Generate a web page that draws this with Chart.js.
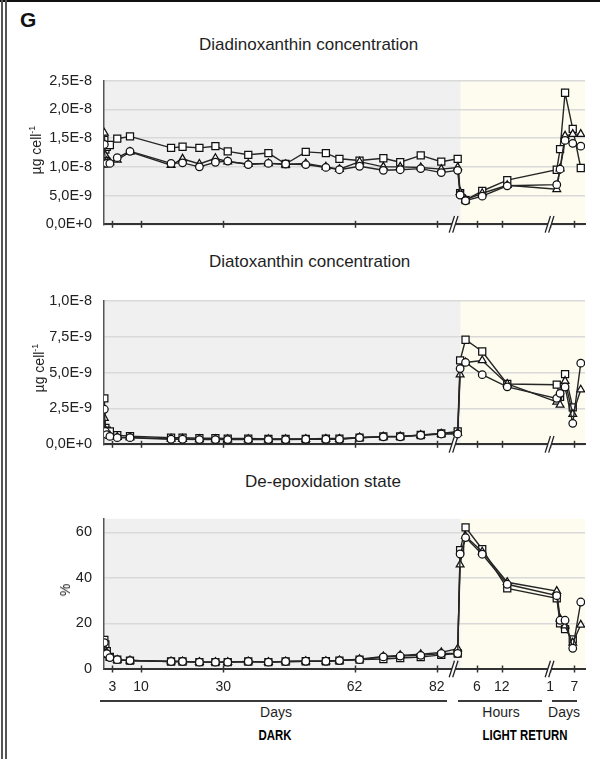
<!DOCTYPE html>
<html><head><meta charset="utf-8">
<script src="https://cdn.jsdelivr.net/npm/chart.js@4.4.1/dist/chart.umd.min.js"></script>
<style>
html,body{margin:0;padding:0;background:#fff;}
body{width:600px;height:759px;position:relative;overflow:hidden;font-family:"Liberation Sans",Arial,sans-serif;color:#1e1e1e;}
.fr{position:absolute;background:#555;}
canvas{position:absolute;left:0;}
.t{position:absolute;white-space:nowrap;line-height:1;}
.c{transform:translateX(-50%);}
.b{font-weight:bold;font-size:15px;color:#000;transform:translateX(-50%) scaleX(0.76);}
.yt{position:absolute;white-space:nowrap;line-height:1;font-size:14px;color:#222;transform:translate(-50%,-50%) rotate(-90deg);}
.yt sup{font-size:9px;vertical-align:6px;line-height:0;}
.ln{position:absolute;height:2px;background:#3a3a3a;}
</style></head><body>
<div class="fr" style="left:0;top:0;width:600px;height:2px;background:#111"></div>
<div class="fr" style="left:1px;top:0;width:2px;height:759px"></div>
<div class="fr" style="left:5px;top:0;width:2px;height:759px"></div>
<div class="t" style="left:20px;top:9px;font-size:21px;font-weight:bold;color:#111">G</div>
<div class="t" style="left:199px;top:35.6px;font-size:17px">Diadinoxanthin concentration</div>
<div class="t" style="left:209px;top:253px;font-size:17px">Diatoxanthin concentration</div>
<div class="t" style="left:245px;top:473px;font-size:17px">De-epoxidation state</div>
<canvas id="c1" width="600" height="185" style="top:60px"></canvas>
<canvas id="c2" width="600" height="185" style="top:280px"></canvas>
<canvas id="c3" width="600" height="200" style="top:498px"></canvas>
<div class="yt" style="left:36px;top:150px">µg cell<sup>-1</sup></div>
<div class="yt" style="left:39px;top:368px">µg cell<sup>-1</sup></div>
<div class="yt" style="left:65px;top:590px">%</div>
<div class="ln" style="left:100px;width:347px;top:699.7px"></div>
<div class="ln" style="left:458px;width:84px;top:699.7px"></div>
<div class="ln" style="left:552px;width:25px;top:699.7px"></div>
<div class="t c" style="left:276px;top:704.6px;font-size:14px">Days</div>
<div class="t c" style="left:501px;top:705px;font-size:14px">Hours</div>
<div class="t c" style="left:564px;top:705px;font-size:14px">Days</div>
<div class="t b" style="left:275px;top:727.3px">DARK</div>
<div class="t b" style="left:525px;top:726.8px">LIGHT RETURN</div>
<script>
// ---- sampling times ----
const darkDays = [1.05,1.3,1.65,2.4,4.2,7.3,17.3,20.1,24.2,28.1,31.1,36.1,41.0,45.2,50.1,55.0,58.3,63.2,69.0,73.1,78.1,83.1,87.1];
const lightHours = [2.0,3.3,7.3,13.3];
const lightDays = [2.64,3.46,4.69,6.59,8.57];

// ---- x axis tick labels ----
const darkTickDays = [3,10,30,62,82];
const hourTicks = [6,12];
const lightDayTicks = [1,7];

// ---- y axis ticks ----
const ddxTicks = [0,5e-9,1e-8,1.5e-8,2e-8,2.5e-8];
const dtxTicks = [0,2.5e-9,5e-9,7.5e-9,1e-8];
const depsTicks = [0,20,40,60];

// ---- Diadinoxanthin (µg cell-1): dark (23), light hours (4), light days (5) ----
const ddxSquare = [1.47e-8,1.30e-8,1.35e-8,1.38e-8,1.49e-8,1.53e-8,
  1.33e-8,1.35e-8,1.33e-8,1.36e-8,1.27e-8,1.21e-8,1.24e-8,1.05e-8,1.26e-8,1.24e-8,1.14e-8,1.11e-8,1.15e-8,1.08e-8,1.20e-8,1.09e-8,1.14e-8,
  0.54e-8,0.42e-8,0.58e-8,0.77e-8,
  0.95e-8,1.31e-8,2.29e-8,1.66e-8,0.98e-8];
const ddxTriangle = [1.59e-8,1.20e-8,1.10e-8,1.08e-8,1.12e-8,1.26e-8,
  1.03e-8,1.14e-8,1.05e-8,1.15e-8,1.09e-8,1.05e-8,1.06e-8,1.04e-8,1.06e-8,1.00e-8,0.96e-8,1.09e-8,1.00e-8,1.00e-8,0.99e-8,0.96e-8,0.99e-8,
  0.56e-8,0.43e-8,0.54e-8,0.68e-8,
  0.61e-8,0.97e-8,1.54e-8,1.57e-8,1.57e-8];
const ddxCircle = [1.39e-8,1.06e-8,1.06e-8,1.06e-8,1.16e-8,1.27e-8,
  1.06e-8,1.07e-8,1.00e-8,1.08e-8,1.10e-8,1.04e-8,1.06e-8,1.05e-8,1.04e-8,0.99e-8,0.95e-8,1.01e-8,0.94e-8,0.95e-8,0.97e-8,0.90e-8,0.94e-8,
  0.51e-8,0.41e-8,0.49e-8,0.67e-8,
  0.69e-8,0.96e-8,1.46e-8,1.41e-8,1.36e-8];

// ---- Diatoxanthin (µg cell-1) ----
const dtxSquare = [3.2e-9,1.14e-9,0.95e-9,0.89e-9,0.63e-9,0.57e-9,
  0.46e-9,0.46e-9,0.42e-9,0.42e-9,0.40e-9,0.40e-9,0.38e-9,0.38e-9,0.38e-9,0.40e-9,0.40e-9,0.46e-9,0.55e-9,0.55e-9,0.65e-9,0.75e-9,0.89e-9,
  5.84e-9,7.28e-9,6.46e-9,4.2e-9,
  4.15e-9,3.3e-9,4.89e-9,2.57e-9,null];
const dtxTriangle = [1.83e-9,1.0e-9,0.75e-9,0.6e-9,0.5e-9,0.48e-9,
  0.38e-9,0.38e-9,0.35e-9,0.35e-9,0.35e-9,0.35e-9,0.35e-9,0.35e-9,0.36e-9,0.37e-9,0.37e-9,0.47e-9,0.53e-9,0.54e-9,0.64e-9,0.73e-9,0.80e-9,
  4.85e-9,5.7e-9,5.84e-9,4.2e-9,
  2.95e-9,2.74e-9,4.4e-9,2.1e-9,3.8e-9];
const dtxCircle = [2.44e-9,0.9e-9,0.67e-9,0.55e-9,0.46e-9,0.46e-9,
  0.35e-9,0.35e-9,0.33e-9,0.33e-9,0.33e-9,0.33e-9,0.33e-9,0.33e-9,0.35e-9,0.35e-9,0.35e-9,0.46e-9,0.52e-9,0.52e-9,0.63e-9,0.72e-9,0.72e-9,
  5.27e-9,5.7e-9,4.85e-9,4.0e-9,
  3.2e-9,3.55e-9,3.99e-9,1.46e-9,5.65e-9];

// ---- De-epoxidation state (%) ----
const depsSquare = [12.8,10.8,7.8,5.3,4.1,3.7,
  3.3,3.3,3.0,3.0,3.0,3.3,3.0,3.3,3.4,3.4,3.7,4.1,4.4,4.8,5.2,6.2,6.8,
  52.2,62.2,52.6,35.4,
  31.0,20.1,17.5,13.0,null];
const depsTriangle = [9.0,8.0,6.0,5.0,4.0,3.7,
  3.3,3.3,3.0,3.0,3.0,3.3,3.0,3.3,3.4,3.4,3.7,4.3,5.5,6.0,6.5,7.3,8.9,
  45.8,58.3,51.5,38.1,
  34.2,22.0,19.0,11.5,19.4];
const depsCircle = [11.6,7.0,6.7,5.0,4.1,3.7,
  3.3,3.3,3.0,3.0,3.0,3.3,3.0,3.3,3.4,3.4,3.7,4.1,5.3,5.7,6.0,6.8,6.8,
  50.5,57.7,50.4,37.2,
  32.2,21.4,21.4,9.1,29.4];

// ---- composite x position (broken axis): dark days | light hours | light days ----
const posDark = d => d;
const posHour = h => 85.66 + 1.0156 * h;
const posLDay = d => 108.62 + 0.986 * d;
const xPos = [...darkDays.map(posDark), ...lightHours.map(posHour), ...lightDays.map(posLDay)];
const xTicks = [
  ...darkTickDays.map(v => ({value: posDark(v), label: String(v)})),
  ...hourTicks.map(v => ({value: posHour(v), label: String(v)})),
  ...lightDayTicks.map(v => ({value: posLDay(v), label: String(v)}))
];
const LIGHT_START = 87.85;
const BREAKS = [86.1, 109.47];

Chart.defaults.font.family = '"Liberation Sans", Arial, sans-serif';
Chart.defaults.color = '#222';

const decor = {
  id: 'decor',
  beforeDraw(chart) {
    const {ctx, chartArea: a, scales: {x}} = chart;
    const b = x.getPixelForValue(LIGHT_START);
    ctx.save();
    ctx.fillStyle = '#f0f0f0';
    ctx.fillRect(a.left, a.top, b - a.left, a.bottom - a.top);
    ctx.fillStyle = '#fdfcef';
    ctx.fillRect(b, a.top, a.right - b, a.bottom - a.top);
    ctx.restore();
  },
  beforeDatasetsDraw(chart) {
    const {ctx, chartArea: a, scales: {x}} = chart;
    const y = a.bottom;
    ctx.save();
    ctx.strokeStyle = '#333';
    ctx.lineWidth = 1.5;
    xTicks.forEach(t => {
      const px = Math.round(x.getPixelForValue(t.value)) + 0.5;
      ctx.beginPath(); ctx.moveTo(px, y - 3.5); ctx.lineTo(px, y + 3.5); ctx.stroke();
    });
    BREAKS.forEach(bv => {
      const px = x.getPixelForValue(bv);
      ctx.fillStyle = '#fff';
      ctx.beginPath();
      ctx.moveTo(px - 1.75 - 2.65, y + 8.3); ctx.lineTo(px - 1.75 + 2.65, y - 8.3);
      ctx.lineTo(px + 1.75 + 2.65, y - 8.3); ctx.lineTo(px + 1.75 - 2.65, y + 8.3);
      ctx.closePath(); ctx.fill();
      ctx.strokeStyle = '#222'; ctx.lineWidth = 1.3;
      [-1.75, 1.75].forEach(o => {
        ctx.beginPath(); ctx.moveTo(px + o - 2.65, y + 8.3); ctx.lineTo(px + o + 2.65, y - 8.3); ctx.stroke();
      });
    });
    ctx.restore();
  }
};

function ds(label, vals, style, radius, order) {
  return {
    label, order,
    data: vals.map((v, i) => ({x: xPos[i], y: v})),
    pointStyle: style, pointRadius: radius, pointHoverRadius: radius,
    borderColor: '#262626', borderWidth: 1.4,
    pointBorderColor: '#111', pointBackgroundColor: '#fff', pointBorderWidth: 1.25,
    tension: 0, spanGaps: false
  };
}

const sci = v => v === 0 ? '0,0E+0' : v.toExponential(1).replace('.', ',').replace('e', 'E');

function make(id, sq, tr, ci, yTicks, yMax, fmt, padTop, xH, showX) {
  new Chart(document.getElementById(id), {
    type: 'line',
    data: { datasets: [ds('square', sq, 'rect', 5, 2), ds('triangle', tr, 'triangle', 4.5, 1), ds('circle', ci, 'circle', 3.8, 0)] },
    options: {
      responsive: false, animation: false, devicePixelRatio: 1,
      layout: { padding: { top: padTop, right: 15, bottom: 0, left: 0 } },
      plugins: { legend: { display: false }, tooltip: { enabled: false } },
      scales: {
        x: {
          type: 'linear', min: 0.97, max: 118.1,
          grid: { display: false, drawTicks: false },
          border: { display: true, color: '#333', width: 2 },
          afterBuildTicks: s => { s.ticks = xTicks.map(t => ({value: t.value})); },
          afterFit: s => { s.height = xH; },
          ticks: { display: showX, autoSkip: false, maxRotation: 0, padding: 10, font: { size: 14 }, color: '#222',
                   callback: (v, i) => xTicks[i] ? xTicks[i].label : '' }
        },
        y: {
          min: 0, max: yMax,
          grid: { color: '#d9d9d9', lineWidth: 1.5, drawTicks: false },
          border: { display: true, color: '#555', width: 1.5 },
          afterBuildTicks: s => { s.ticks = yTicks.map(v => ({value: v})); },
          afterFit: s => { s.width = 104; },
          ticks: { padding: 12, font: { size: 14.5 }, color: '#222', callback: v => fmt(v) }
        }
      }
    },
    plugins: [decor]
  });
}

make('c1', ddxSquare, ddxTriangle, ddxCircle, ddxTicks, 2.5e-8, sci, 11, 16, false);
make('c2', dtxSquare, dtxTriangle, dtxCircle, dtxTicks, 1e-8, sci, 9, 18, false);
make('c3', depsSquare, depsTriangle, depsCircle, depsTicks, 66, v => String(v), 10, 29, true);
</script>
</body></html>
